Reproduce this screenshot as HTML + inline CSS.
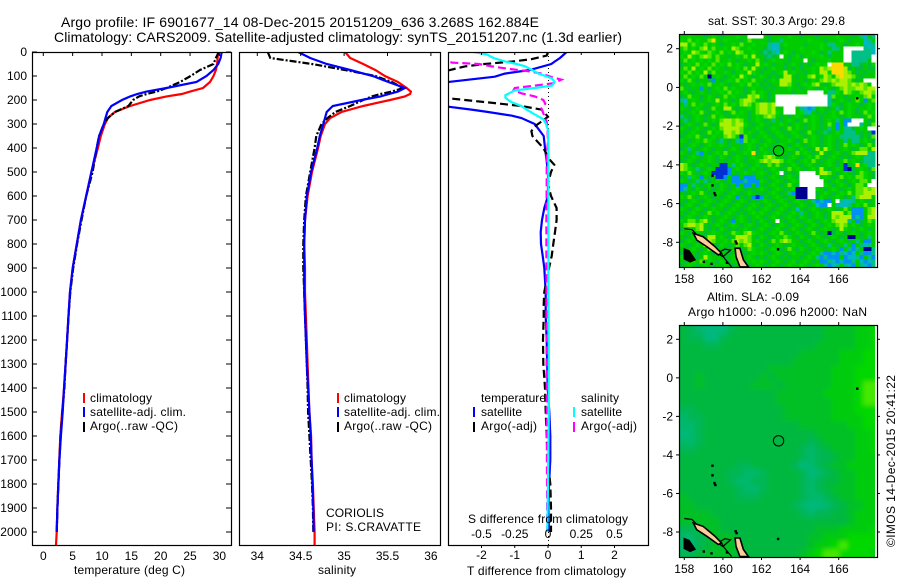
<!DOCTYPE html>
<html lang="en">
<head>
<meta charset="utf-8">
<title>Argo profile</title>
<style>
html,body{margin:0;padding:0;background:#fff;}
svg{display:block;}
text{font-family:"Liberation Sans",sans-serif;font-size:12px;fill:#000;}
.t14{font-size:14px;}
</style>
</head>
<body>
<svg id="chart" xmlns="http://www.w3.org/2000/svg" width="900" height="580" viewBox="0 0 900 580">
  <defs>
    <clipPath id="clip-t"><rect x="32" y="52" width="199" height="493"/></clipPath>
    <clipPath id="clip-s"><rect x="239" y="52" width="201" height="493"/></clipPath>
    <clipPath id="clip-d"><rect x="448" y="52" width="200" height="493"/></clipPath>
    <clipPath id="clip-m1"><rect x="679" y="34" width="198" height="233"/></clipPath>
    <clipPath id="clip-m2"><rect x="679" y="325" width="198" height="232"/></clipPath>
    <clipPath id="clip-m2c"><rect x="679" y="325" width="196" height="232"/></clipPath>
    <filter id="soft" x="-5%" y="-5%" width="110%" height="110%"><feGaussianBlur stdDeviation="2.4"/></filter>
  </defs>
  <rect x="0" y="0" width="900" height="580" fill="#fff"/>

  <text class="t14" x="61" y="27" textLength="478" lengthAdjust="spacing">Argo profile: IF 6901677_14 08-Dec-2015 20151209_636 3.268S 162.884E</text>
  <text class="t14" x="54" y="42" textLength="568" lengthAdjust="spacing">Climatology: CARS2009. Satellite-adjusted climatology: synTS_20151207.nc (1.3d earlier)</text>

  <g id="panel-t"></g>
  <g id="panel-s"></g>
  <g id="panel-d"></g>
  <g id="map-sst"></g>
  <g id="map-sla"></g>

  <text x="74" y="574" textLength="111" lengthAdjust="spacing">temperature (deg C)</text>
  <text x="318" y="574" textLength="38" lengthAdjust="spacing">salinity</text>
  <text x="467" y="575" textLength="159" lengthAdjust="spacing">T difference from climatology</text>
  <text x="468" y="523" textLength="160" lengthAdjust="spacing">S difference from climatology</text>

  <g>
    <rect x="83" y="393" width="2" height="10" fill="#f00"/>
    <rect x="83" y="407" width="2" height="10" fill="#00f"/>
    <rect x="83" y="422" width="2" height="10" fill="#000"/>
    <text x="90" y="402" textLength="62" lengthAdjust="spacing">climatology</text>
    <text x="90" y="416" textLength="96" lengthAdjust="spacing">satellite-adj. clim.</text>
    <text x="90" y="430" textLength="88" lengthAdjust="spacing">Argo(..raw -QC)</text>
  </g>
  <g>
    <rect x="337" y="393" width="2" height="10" fill="#f00"/>
    <rect x="337" y="407" width="2" height="10" fill="#00f"/>
    <rect x="337" y="422" width="2" height="10" fill="#000"/>
    <text x="344" y="402" textLength="62" lengthAdjust="spacing">climatology</text>
    <text x="344" y="416" textLength="96" lengthAdjust="spacing">satellite-adj. clim.</text>
    <text x="344" y="430" textLength="88" lengthAdjust="spacing">Argo(..raw -QC)</text>
    <text x="326" y="517" textLength="58" lengthAdjust="spacing">CORIOLIS</text>
    <text x="326" y="531" textLength="95" lengthAdjust="spacing">PI: S.CRAVATTE</text>
  </g>
  <g>
    <text x="481" y="402" textLength="65" lengthAdjust="spacing">temperature</text>
    <text x="581" y="402" textLength="38" lengthAdjust="spacing">salinity</text>
    <rect x="473" y="407" width="2" height="10" fill="#00f"/>
    <rect x="473" y="422" width="2" height="10" fill="#000"/>
    <rect x="573" y="407" width="2" height="10" fill="#0ff"/>
    <rect x="573" y="422" width="2" height="10" fill="#f0f"/>
    <text x="481" y="416" textLength="41" lengthAdjust="spacing">satellite</text>
    <text x="481" y="430" textLength="56" lengthAdjust="spacing">Argo(-adj)</text>
    <text x="581" y="416" textLength="41" lengthAdjust="spacing">satellite</text>
    <text x="581" y="430" textLength="56" lengthAdjust="spacing">Argo(-adj)</text>
  </g>

  <text x="708" y="25" textLength="137" lengthAdjust="spacing">sat. SST: 30.3 Argo: 29.8</text>
  <text x="707" y="301" textLength="92" lengthAdjust="spacing">Altim. SLA: -0.09</text>
  <text x="688" y="316" textLength="179" lengthAdjust="spacing">Argo h1000: -0.096 h2000: NaN</text>
  <text transform="translate(895,547) rotate(-90)" textLength="172" lengthAdjust="spacing">©IMOS 14-Dec-2015 20:41:22</text>
</svg>

<script>
// ---------- profile data ----------
const depths = [0,25,50,75,100,125,150,165,175,185,200,225,250,275,300,350,400,500,600,700,800,900,1000,1100,1200,1300,1400,1500,1600,1700,1800,1900,2000,2055];
const climT = [29.8,29.7,29.6,29.4,29.0,28.4,27.2,25,23.6,21,18.2,14.8,12.2,11,10.5,9.8,9.3,8.2,7.3,6.4,5.7,5,4.55,4.3,4.05,3.8,3.55,3.2,2.9,2.73,2.56,2.4,2.28,2.17];
const adjT = [30.4,30.2,29.8,29,27.8,26.1,21,17.6,16,14.8,13.4,11.6,10.9,10.6,10.3,9.5,9.1,8.2,7.3,6.4,5.7,5,4.55,4.3,4.05,3.8,3.53,3.3,3,2.75,2.57,2.4,2.28];
const argoT = [29.9,29.4,29,26.7,25.1,23.3,21,19.3,17.6,16.3,15.3,14.5,12.2,11,10.3,9.5,9.1,8.4,7.3,6.5,5.75,5.1,4.6,4.3,4.05,3.8,3.6,3.25,2.95,2.75,2.55,2.4,2.3];
const climS = [35.01,35.07,35.22,35.36,35.47,35.62,35.72,35.77,35.76,35.70,35.53,35.22,34.97,34.84,34.78,34.73,34.70,34.63,34.58,34.55,34.54,34.55,34.55,34.56,34.57,34.58,34.59,34.60,34.62,34.625,34.64,34.65,34.66,34.66];
const adjS = [34.47,34.61,34.80,35.07,35.33,35.51,35.70,35.62,35.52,35.42,35.20,34.87,34.80,34.78,34.76,34.72,34.69,34.62,34.57,34.55,34.54,34.54,34.54,34.55,34.56,34.57,34.585,34.60,34.615,34.625,34.635,34.645,34.65];
const argoS = [34.12,34.15,34.63,35.01,35.36,35.55,35.68,35.55,35.42,35.32,35.22,35.07,34.90,34.81,34.74,34.68,34.66,34.61,34.56,34.54,34.53,34.53,34.54,34.55,34.56,34.57,34.58,34.585,34.60,34.615,34.63,34.64,34.645];

const tAdjDepths = [0,25,40,50,75,90,103,124,160,228,240,250,265,275,300,350,400,500,600,650,700,750,800,850,900,950,1000,1100,1200,1400,1500,1600,1700,1800,1900,2000];
const tAdjDiff = [0.56,0.36,0.2,0.1,-0.55,-1.3,-1.6,-2.95,-4,-3,-2.3,-1.8,-1.1,-0.8,-0.4,-0.13,-0.09,0,0,-0.11,-0.18,-0.22,-0.21,-0.16,-0.11,-0.09,-0.07,-0.07,-0.04,-0.01,0.04,0.07,0.07,0.03,0.01,0.03];
const tArgoDepths = [0,15,30,40,50,60,75,120,193,200,210,225,240,255,270,290,310,330,350,370,400,450,470,500,550,600,650,700,750,800,850,900,950,1000,1050,1100,1200,1300,1400,1500,1600,1700,1800,1900,1950,2000];
const tArgoDiff = [0,-0.04,-0.5,-1.1,-1.9,-2.5,-2.95,-4,-3,-2.5,-1.8,-0.8,-0.2,-0.09,0,-0.2,-0.4,-0.5,-0.47,-0.34,-0.14,0.06,0.19,0.09,0,0.09,0.26,0.26,0.21,0.16,0.11,0.03,-0.04,-0.11,-0.13,-0.13,-0.15,-0.14,-0.09,-0.07,-0.04,-0.01,0.07,0.09,0.09,0.09];
const sAdjDepths = [0,10,25,40,50,60,75,90,110,125,140,150,160,170,180,190,200,210,225,240,260,280,300,325,400,600,800,1000,1200,1500,1800,2000];
const sAdjDiff = [-0.56,-0.46,-0.41,-0.32,-0.235,-0.17,-0.12,-0.07,0.03,0.05,0.03,-0.1,-0.25,-0.285,-0.32,-0.32,-0.3,-0.27,-0.2,-0.16,-0.1,-0.035,-0.015,0,0.003,0.003,0.003,0.003,0.006,0.006,0,-0.005];
const sArgoDepths = [0,25,44,50,60,70,80,90,105,115,130,140,150,160,172,185,200,215,235,255,290,330,375,425,550,690,840,1000,1500,2000];
const sArgoDiff = [-0.89,-0.85,-0.72,-0.52,-0.42,-0.3,-0.15,-0.05,0.03,0.1,0.04,-0.1,-0.25,-0.26,-0.2,-0.1,-0.035,-0.02,-0.05,-0.035,-0.01,-0.003,0,-0.01,-0.01,-0.012,-0.012,-0.012,-0.01,-0.005];

// ---------- tick labels ----------
const depthTicks = [0,100,200,300,400,500,600,700,800,900,1000,1100,1200,1300,1400,1500,1600,1700,1800,1900,2000];
const tempTicks = [0,5,10,15,20,25,30];
const salTicks = [34,34.5,35,35.5,36];
const tDiffTicks = [-2,-1,0,1,2];
const sDiffTicks = [-0.5,-0.25,0,0.25,0.5];
const lonTicks = [158,160,162,164,166];
const latTicks = [2,0,-2,-4,-6,-8];

// ---------- map data: one character per grid cell ----------
const sstRows = [
"..g...a.g. a...g..www w.a....g.. a...a....g ...a.tc.t",
"g.l.g..lo. .g...a.l.. ..a..t.... ..g...a... g.a...ct.",
"yy.lg.l.g. a..g.l..g. ..tcc.g... .a...g.tt. .a..g.cct",
"gl.g.ly.l. .g.yl..g.. .atcca.... g....g..tt .wwwwwttc",
".g.ylg.lg. l.g.yl..g. atatc.g.a. ...g.a.t.. .wwtttttc",
"g.yg.lyl.l ..a.g.l.y. .ata.w.a.g a....g.a.. .wwtttttw",
".l.g.g.g.l ..g.a..g.l .a.g...a.. .w.a...g.. .wwtttt.w",
"a.g.l.g.l. g.l.g.a..y .g.a..a.g. a.a.g.gwoo o..tta.ag",
".l.y.g.l.g .a..g.l.y. .a.g..a.a. a..g.ylyoo oya.aa.aa",
"g.l.g.y.l. .g.a.g.yg. a..a.gy.g. .a.g.yygoo oyl.a.a..",
".l.g.l.n.g .a.g.yg.a. g.a.a.yy.a ..ly.gyl.y oyyl.a...",
"g.l.a..as. a.g.l.g.l. .a.g.yyy.. .a.g.lylyl yyl.a.www",
".a.g.g.l.. g.a..g.l.g a.a..yyl.a .g.ly.a.ly yylylyl.w",
"l.a..s.a.g .l.g..a.g. .a.a...g.. a.g.a.g.a. lyllyylyy",
".g.a.g.a.. g.l.g.a.l. g.a.....a. ..wwww.ttg .ylg.lyyl",
"a.l..a.g.a .l.g.a.yly g.a.wwwwww wwwwwwwtl. .a..g.ly.",
"tc.g.a.g.y .g.a.lyyl. a.a.wwwwww wwwwwwwta. g.a.l.s.l",
".t.l.g.a.g .l.g.lyl.l yylywwwwww wwwwwwwtg. a.g..a.g.",
"g.a.g.a.l. .yy.a..g.l yyly..www. tcsc.g.a.t a.g.a..g.",
".a.g.l.a.g .a.l.g.a.l yylyg.www. gtc.a.a.g. l.g.a.l.g",
"t.a.g.a.l. g.a.g..a.g .lyl.a.a.g .a.g.a..g. a.g..a.l.",
".ta.g.a.g. lyylyl.a.g .a.t.a.g.a .l.g.a.g.t .sswww.a.",
"a.g.a.l.a. yyylyyg.a. g.a..g.a.g .a.g.a.l.s .swwwt.al",
"g.a.g.a.g. lyyyyl.a.g .a.g.a.l.g .a.g.a.t.s .tta.g.ww",
".a.g.a.l.g .yylyl.g.a g.a.g.a.g. a.l.a.ta.g .ttt.a.ab",
"a.g.l.a.g. .lyl.bl.a. .g.a.g.a.g .a.g.a.g.. ttttta.al",
"g.a.g.lg.a t.a.tsl.g. a.g.a..g.a .l.g.a.g.a .t.tt.g.a",
".a.g.a.g.. g.a..a.g.a .g.a.g.a.g .a.g.a.g.a .l.g.a.l.",
"a.t.a.g.a. .a.g.a.g.a g.a..a.g.a g.a.y.yg.a .g.a.ll.y",
"g.a.ts.a.g .l.a..g.oa .g.a.g.a.l .g.a.y.a.g .a.lyyytt",
".a.g.a.g.a g.a.g.a.g. .lyl..a.g. a.g.l.a.g. a.a.g.ttt",
"a.g.a..g.a .a..g.a..g lylyyl.g.a .g.l.a.g.a .l.g.attt",
"yl.a.g.a.. bb.t.g.a.g a.l.l.a.g. a.g.a..g.a .ba.o.gtt",
"ylg.ta.g.b bbs.g.a.g. .a.g.a.l.g .a.g.y.a.g .bna.g.al",
"g.l.a.g.bb bbs.a.g.a. g.a.gwa.a. wwww.yyl.a .g.a.lg.a",
"a.tg.s.a.b bs.ss.sss. .a.g.a.g.a wwwww.g.a. l.g.llg.a",
"g.a.t.ta.g .a.ssstsss g.a.g.a.g. wwwwww.a.g .a.g.ll.w",
"ss.t.a.g.a g.a.s.ss.s .a.g.a.l.a wwwwwwg.a. g.a.ll.ww",
"st.ag.a.a. g.a.g.a.a. g.a.g.a.gn nnwwg.a.g. a.g.llyly",
".a.g.l.a.g .a.g.a.g.a .a.g.a.tsn nnwwa.g.a. g.l.llyyy",
"g.l.a.g.a. a.g.s.a.sb s.a.g.a..n nnww.g.a.g .a.tlyyy.",
".a.g.a.g.a .g.a.g.a.a .g.a.g.a.g .a.tscss.w tcct.g.a.",
"a.g.a.g.a. g.a.g.a.g. a.g.a.g.a. g.a.cssw.t cct.g.l..",
"g.a.g.a.g. .a.g.a.g.a .g.a.g.a.c .a.g.a.g.a .l.sss.ly",
".a.g.a.l.g a.g.a.a.g. g.a.g.a.g. t.a.g.a.yy y.lsss.ly",
"a.g.a.g.a. .g.a.g.a.g .a.g.a.g.a g.a.g.a.yl yyysts.yy",
"g.ll.ly.a. g.as.g.a.a g.a.w.a.g. a.g.a.g.ly yyt.sa.lg",
".lyyly.a.g .a.g.a.g.a .g.a.g.a.g .a.g.a.g.l yl.g.a.g.",
"a.g.ly.a.a g.a.a.g.a. g.a.g.a.g. a.g.a.g.a. yg.a.g.a.",
"g.a.g.a.g. .a.lg.lyg. .a.g.l.a.g .a.l.a.nag .a.g.a.g.",
".a.g.a.yy. g.a.yyyl.a g.a.g.lg.a g.a.g.a.g. a.nn.a.t.",
"a.g.a.yyl. .g.lylyl.g .a.l.lyl.. a.g.a.g.a. g.a.t.ss.",
"g.a.g.yl.a g.a.l.ly.a g.a.g.a.g. .a.g.a.t.a .t.s.tct.",
".a.g.a.l.g .a.g.a.lg. .a.g.a.l.a g.a.g.a.g. s.tst.nnt",
"a.g.a.g.a. g.a.g.a.g. g.a.g.a.g. .a.g.tsscs tcsc.tsst",
"g.l.a.yg.. .a.g.a.g.a .a.g.a.a.. a.g.tstsss .sccts.ts",
".a.g.l.g.a g.a.g.a.g. g.a.g.a.ga .g.a.sstcs csst.csct",
"a.g.a.g.a. .g.a.g.a.g .a.g.a.g.. g.a.g.tsct .tcs.tcst"
];
const slaRows = [
"dmatttmdddddddddddgggghhb",
"dmmttmddddddddddddgggghhb",
"dddmmddddddddddddggggghhb",
"dddddddddddddddggggghhhbb",
"ddddddddddddddgggggghhhbb",
"dddddddddddgggggggghhhbbb",
"ddgdddddddgdggggggghhhbbb",
"ddgddddddgggdgggggghhhbll",
"ddddddddddddgggggghhhhbll",
"ddddddddddddggggggghhhbll",
"mmdddddddddddgggggghhhbbb",
"ammddddddddddgggggghhhhbb",
"aamddddddddddddgggggghhbb",
"tamddddddddddddddggggghhb",
"aamdddddddddddddmdgggghhb",
"mmdddddddddddddmamdggghhb",
"dddddddddddddddmammdgghhh",
"dddddddmmdddddmtamdgghhhh",
"ddddddmmaamddddmtamdgghhh",
"ddddddmaammddddmamddgghhh",
"dddddddmaamddddmamdggghhh",
"gddddddmmmdddddmaamdgghhh",
"ggddddddddddddmattamdgghh",
"ggggdddddddddddmammddghhh",
"gggggddddddddddddddddghhh",
"mmgggddddddddddddggghhhhb",
"aamdgggdddddddddgghhhbbbb",
"aamdgggdddddddddghhblbbbb",
"mmdggggddddddddghbllbbbbh"
];

// ---------- coastline outlines in lon/lat ----------
const tanIslandLon = [158.47,158.98,159.59,159.93,159.76,159.16,158.64];
const tanIslandLat = [-7.54,-7.71,-8.22,-8.57,-8.65,-8.22,-7.88];
const tanIsland2Lon = [160.63,160.88,161.06,161.32,160.88,160.68];
const tanIsland2Lat = [-8.31,-8.31,-8.91,-9.27,-9.27,-8.74];
const darkLandLon = [158,158.25,158.55,158.3,158.0];
const darkLandLat = [-8.35,-8.45,-8.9,-9.0,-8.85];
const coastLon = [158,158.4,158.8,159.3,159.75,160.1,160.4,160.0,159.7];
const coastLat = [-7.3,-7.35,-7.75,-8.15,-8.55,-8.35,-8.4,-8.75,-8.55];
const coast2Lon = [159.9,160.1,160.45];
const coast2Lat = [-8.55,-8.85,-9.27];
const isleLon = [159.45,159.45,159.55,159.6,160.65,160.7,162.85,166.95,159.0,159.4,160.2];
const isleLat = [-4.55,-5.05,-5.45,-5.55,-7.95,-8.05,-8.35,-0.55,-9.0,-9.1,-9.05];

const SVG_NS = 'http://www.w3.org/2000/svg';
function mk(tag, parent, attrs) {
  const e = document.createElementNS(SVG_NS, tag);
  for (const k in attrs) e.setAttribute(k, attrs[k]);
  parent.appendChild(e);
  return e;
}

// ---------- axis functions ----------
const yDepth = d => 52 + 0.24 * d;
const xTemp = v => 43.3 + 5.87 * v;
const xSal = v => 257.3 + 86.8 * (v - 34);
const xTDiff = v => 548 + 33.25 * v;
const xSDiff = v => 548 + 133 * v;

function tickLine(g, x1, y1, x2, y2) {
  const l = mk('line', g, {x1: x1, y1: y1, x2: x2, y2: y2, stroke: '#000', 'stroke-width': 1});
  
  
  return l;
}
function tickText(g, x, y, str, anchor) {
  const t = mk('text', g, {x: x, y: y, 'text-anchor': anchor});
  t.textContent = str;
  
  
  return t;
}
function frame(g, x, y, w, h) {
  const r = mk('rect', g, {x: x + 0.5, y: y + 0.5, width: w, height: h, fill: 'none', stroke: '#000', 'stroke-width': 1.2});
  
  
}
function profile(g, xf, vals, dep, color, width, dash, name) {
  const pts = vals.map((v, i) => xf(v).toFixed(1) + ',' + yDepth(dep[i]).toFixed(1)).join(' ');
  const attrs = {points: pts, fill: 'none', stroke: color, 'stroke-width': width};
  if (dash) attrs['stroke-dasharray'] = dash;
  const p = mk('polyline', g, attrs);
  
  
}

// ---------- temperature panel ----------
const pT = document.getElementById('panel-t');
const pTc = mk('g', pT, {'clip-path': 'url(#clip-t)'});
profile(pTc, xTemp, climT, depths, '#f00', 2.2, null, 'climatology-temperature-line');
profile(pTc, xTemp, argoT, depths, '#000', 2.2, '7 2 2 2', 'argo-temperature-line');
profile(pTc, xTemp, adjT, depths, '#00f', 2.2, null, 'satellite-adjusted-temperature-line');
frame(pT, 32, 52, 199, 493);
tempTicks.forEach(v => {
  tickLine(pT, xTemp(v), 52, xTemp(v), 56);
  tickText(pT, xTemp(v), 560, String(v), 'middle');
});
depthTicks.forEach(d => {
  tickLine(pT, 32, yDepth(d), 37, yDepth(d));
  tickLine(pT, 226, yDepth(d), 231, yDepth(d));
  tickText(pT, 27, yDepth(d) + 4, String(d), 'end');
});

// ---------- salinity panel ----------
const pS = document.getElementById('panel-s');
const pSc = mk('g', pS, {'clip-path': 'url(#clip-s)'});
profile(pSc, xSal, climS, depths, '#f00', 2.2, null, 'climatology-salinity-line');
profile(pSc, xSal, argoS, depths, '#000', 2.2, '7 2 2 2', 'argo-salinity-line');
profile(pSc, xSal, adjS, depths, '#00f', 2.2, null, 'satellite-adjusted-salinity-line');
frame(pS, 239, 52, 201, 493);
salTicks.forEach(v => {
  tickLine(pS, xSal(v), 52, xSal(v), 56);
  tickText(pS, xSal(v), 560, String(v), 'middle');
});

// ---------- difference panel ----------
const pD = document.getElementById('panel-d');
const pDc = mk('g', pD, {'clip-path': 'url(#clip-d)'});
const zeroLine = mk('line', pDc, {x1: 548.5, y1: 52, x2: 548.5, y2: 545, stroke: '#000', 'stroke-width': 1, 'stroke-dasharray': '1 3'});


profile(pDc, xTDiff, tAdjDiff, tAdjDepths, '#00f', 2.2, null, 'temperature-satellite-difference-line');
profile(pDc, xTDiff, tArgoDiff, tArgoDepths, '#000', 2.2, '8 4', 'temperature-argo-difference-line');
profile(pDc, xSDiff, sArgoDiff, sArgoDepths, '#f0f', 2.2, '8 4', 'salinity-argo-difference-line');
profile(pDc, xSDiff, sAdjDiff, sAdjDepths, '#0ff', 2.2, null, 'salinity-satellite-difference-line');
frame(pD, 448, 52, 200, 493);
tDiffTicks.forEach(v => {
  tickLine(pD, xTDiff(v), 52, xTDiff(v), 55);
  tickLine(pD, xTDiff(v), 545, xTDiff(v), 548);
  tickText(pD, xTDiff(v), 559, String(v), 'middle');
});
sDiffTicks.forEach(v => {
  tickText(pD, xSDiff(v), 538, String(v), 'middle');
});

// ---------- maps ----------
const sstColors = {'.':'#00cc00', a:'#00bc3c', g:'#00d800', l:'#55e600', y:'#aaf000', Y:'#e8f000', o:'#ffd800', t:'#00c088', c:'#00b8c0', s:'#0090f0', b:'#0030d0', n:'#000090', w:'#ffffff'};
const slaColors = {t:'#00b87c', a:'#00b86c', m:'#00b654', d:'#00b840', g:'#00c028', h:'#00cc10', b:'#00d800', l:'#44e800'};

function mapAxes(root, yTop, yBottom, y2px, cx, cy) {
  const xLon = lon => 684.3 + 19.3 * (lon - 158);
  const yLat = lat => y2px + (2 - lat) * cy;
  return {xLon: xLon, yLat: yLat, top: yTop, bottom: yBottom};
}
function drawLand(g, ax) {
  const poly = (lons, lats, fill, stroke, name) => {
    const pts = lons.map((v, i) => ax.xLon(v).toFixed(1) + ',' + ax.yLat(lats[i]).toFixed(1)).join(' ');
    const p = mk('polygon', g, {points: pts, fill: fill, stroke: stroke, 'stroke-width': 1.6});
    
    
  };
  const line = (lons, lats, name) => {
    const pts = lons.map((v, i) => ax.xLon(v).toFixed(1) + ',' + ax.yLat(lats[i]).toFixed(1)).join(' ');
    const p = mk('polyline', g, {points: pts, fill: 'none', stroke: '#000', 'stroke-width': 1.2});
    
    
  };
  line(coastLon, coastLat, 'coastline');
  line(coast2Lon, coast2Lat, 'coastline');
  poly(tanIslandLon, tanIslandLat, '#ffcc99', '#000', 'island-land');
  poly(tanIsland2Lon, tanIsland2Lat, '#ffcc99', '#000', 'island-land');
  poly(darkLandLon, darkLandLat, '#000', '#000', 'coast-land');
  isleLon.forEach((lon, i) => {
    const r = mk('rect', g, {x: ax.xLon(lon) - 1, y: ax.yLat(isleLat[i]) - 1, width: 2.4, height: 2.4, fill: '#000'});
    
    
  });
}
function drawFloatMarker(g, ax) {
  const c = mk('circle', g, {cx: ax.xLon(162.884), cy: ax.yLat(-3.268), r: 5.2, fill: 'none', stroke: '#000', 'stroke-width': 1});
  
  
}
function drawMapTicks(g, ax, x0, x1) {
  lonTicks.forEach(v => {
    tickLine(g, ax.xLon(v), ax.top - 3, ax.xLon(v), ax.top);
    tickLine(g, ax.xLon(v), ax.bottom, ax.xLon(v), ax.bottom + 3);
    tickText(g, ax.xLon(v), ax.bottom + 16, String(v), 'middle');
  });
  latTicks.forEach(v => {
    tickLine(g, x0 - 3, ax.yLat(v), x0, ax.yLat(v));
    tickLine(g, x1, ax.yLat(v), x1 + 3, ax.yLat(v));
    tickText(g, x0 - 6, ax.yLat(v) + 4, String(v), 'end');
  });
}

// SST map
const mSst = document.getElementById('map-sst');
const axSst = mapAxes(mSst, 34, 267, 48.7, 19.3, 19.36);
const mSstC = mk('g', mSst, {'clip-path': 'url(#clip-m1)'});
sstRows.forEach((row, r) => {
  const cells = row.replace(/ /g, '');
  for (let c = 0; c < 49; c++) {
    const ch = cells[c] || '.';
    const cell = mk('rect', mSstC, {x: 679.3 + 4 * c, y: 34.3 + 4.017 * r, width: 4.05, height: 4.07, fill: sstColors[ch] || sstColors['.'], 'shape-rendering': 'crispEdges'});
    
    
  }
});
const mSstL = mk('g', mSst, {'clip-path': 'url(#clip-m1)'});
drawLand(mSstL, axSst);
drawFloatMarker(mSstL, axSst);
frame(mSst, 679, 34, 198, 233);
drawMapTicks(mSst, axSst, 679, 877);

// SLA map
const mSla = document.getElementById('map-sla');
const axSla = mapAxes(mSla, 325, 557, 339.3, 19.3, 19.27);
const mSlaOuter = mk('g', mSla, {'clip-path': 'url(#clip-m2c)'});
const mSlaC = mk('g', mSlaOuter, {filter: 'url(#soft)'});
slaRows.forEach((row, r) => {
  for (let c = 0; c < row.length; c++) {
    const cell = mk('rect', mSlaC, {x: 679.3 + 8 * c - (c === 0 ? 8 : 0), y: 325.3 + 8 * r - (r === 0 ? 8 : 0), width: (c === 0 || c === row.length - 1) ? 16.2 : 8.2, height: (r === 0 || r === slaRows.length - 1) ? 16.2 : 8.2, fill: slaColors[row[c]]});
    
    
  }
});
const mSlaL = mk('g', mSla, {'clip-path': 'url(#clip-m2)'});
drawLand(mSlaL, axSla);
drawFloatMarker(mSlaL, axSla);
frame(mSla, 679, 325, 198, 232);
drawMapTicks(mSla, axSla, 679, 877);
</script>
</body>
</html>
